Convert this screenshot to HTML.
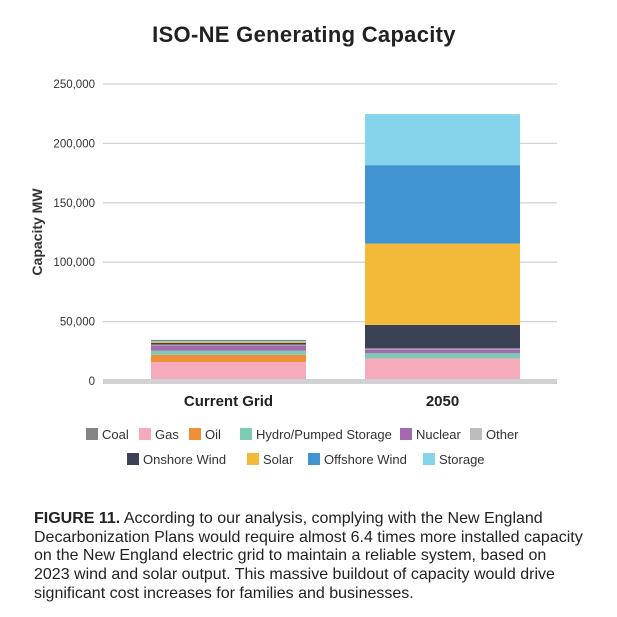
<!DOCTYPE html>
<html><head><meta charset="utf-8"><style>
body{margin:0;background:#fff;font-family:"Liberation Sans",sans-serif;}
#wrap{position:relative;width:617px;height:617px;overflow:hidden;}
.t{position:absolute;white-space:nowrap;}
</style></head><body>
<div id="wrap">
<div class="t" style="left:0;width:608px;top:22px;text-align:center;font-size:22px;font-weight:bold;color:#222;letter-spacing:0.3px">ISO-NE Generating Capacity</div>
<svg id="chart" width="617" height="617" style="position:absolute;left:0;top:0"></svg>
<div class="t" style="left:34px;top:510px;font-size:16px;line-height:18.7px;color:#222"><b>FIGURE 11.</b> According to our analysis, complying with the New England<br>Decarbonization Plans would require almost 6.4 times more installed capacity<br>on the New England electric grid to maintain a reliable system, based on<br>2023 wind and solar output. This massive buildout of capacity would drive<br>significant cost increases for families and businesses.</div>
</div>
<script>
const categories=["Current Grid","2050"];
const seriesNames=["Coal","Gas","Oil","Hydro/Pumped Storage","Nuclear","Other","Onshore Wind","Solar","Offshore Wind","Storage"];
const seriesColors=["#848484","#f5abbb","#ef8f3a","#7ecab4","#a36bad","#bdbdbf","#3d4155","#f2ba38","#3f94d1","#86d4ec"];
const coal=[500,0];
const gas=[15500,19000];
const oil=[6000,0];
const hydro=[3500,4300];
const nuclear=[4500,3300];
const other=[600,800];
const onshore=[1500,19800];
const solar=[1500,68500];
const offshore=[1000,66000];
const storage=[0,43000];
const seriesValues=[coal,gas,oil,hydro,nuclear,other,onshore,solar,offshore,storage];
const tickValues=[0,50000,100000,150000,200000,250000];
const tickLabels=["0","50,000","100,000","150,000","200,000","250,000"];

const svg=document.getElementById('chart');
const NS='http://www.w3.org/2000/svg';
const y0=381,yTop=84,maxV=250000;
const yScale=v=>y0-(v/maxV)*(y0-yTop);
const barX=[151,365],barW=155;
const xScale=i=>barX[0]+i*(barX[1]-barX[0]);
function mk(tag,attrs){const e=document.createElementNS(NS,tag);for(const k in attrs)e.setAttribute(k,attrs[k]);svg.appendChild(e);return e;}
tickValues.forEach((v,i)=>{
  if(v>0){const g=mk('line',{x1:103,x2:557,y1:yScale(v),y2:yScale(v),stroke:'#d4d4d4','stroke-width':1.3});
  
  }
  const t=mk('text',{x:95,y:yScale(v)+4,'text-anchor':'end','font-size':11.5,fill:'#333','font-family':'Liberation Sans, sans-serif'});
  t.textContent=tickLabels[i];
  
  
});
const yt=mk('text',{x:0,y:0,transform:'translate(42,232) rotate(-90)','text-anchor':'middle','font-size':14,'font-weight':'bold',fill:'#333','font-family':'Liberation Sans, sans-serif'});
yt.textContent='Capacity MW';


categories.forEach((c,i)=>{
  let cum=0;
  seriesValues.forEach((s,j)=>{
    const v=s[i];if(v<=0)return;
    const r=mk('rect',{x:xScale(i),width:barW,y:yScale(cum+v),height:yScale(cum)-yScale(cum+v),fill:seriesColors[j]});
    
    
    cum+=v;
  });
  const t=mk('text',{x:xScale(i)+barW/2,y:406,'text-anchor':'middle','font-size':15,'font-weight':'bold',fill:'#222','font-family':'Liberation Sans, sans-serif'});
  t.textContent=c;
  
  
});
const base=mk('rect',{x:103,y:379,width:454,height:5,fill:'#d2d2d4'});


const legendPos=[[86,434],[139,434],[189,434],[240,434],[400,434],[470,434],[127,459],[247,459],[308,459],[423,459]];
seriesNames.forEach((n,j)=>{
  const [lx,ly]=legendPos[j];
  const r=mk('rect',{x:lx,y:ly-6,width:12,height:12,fill:seriesColors[j]});
  
  
  const t=mk('text',{x:lx+16,y:ly+5,'font-size':13,fill:'#333','font-family':'Liberation Sans, sans-serif'});
  t.textContent=n;
  
  
});
</script>
</body></html>
